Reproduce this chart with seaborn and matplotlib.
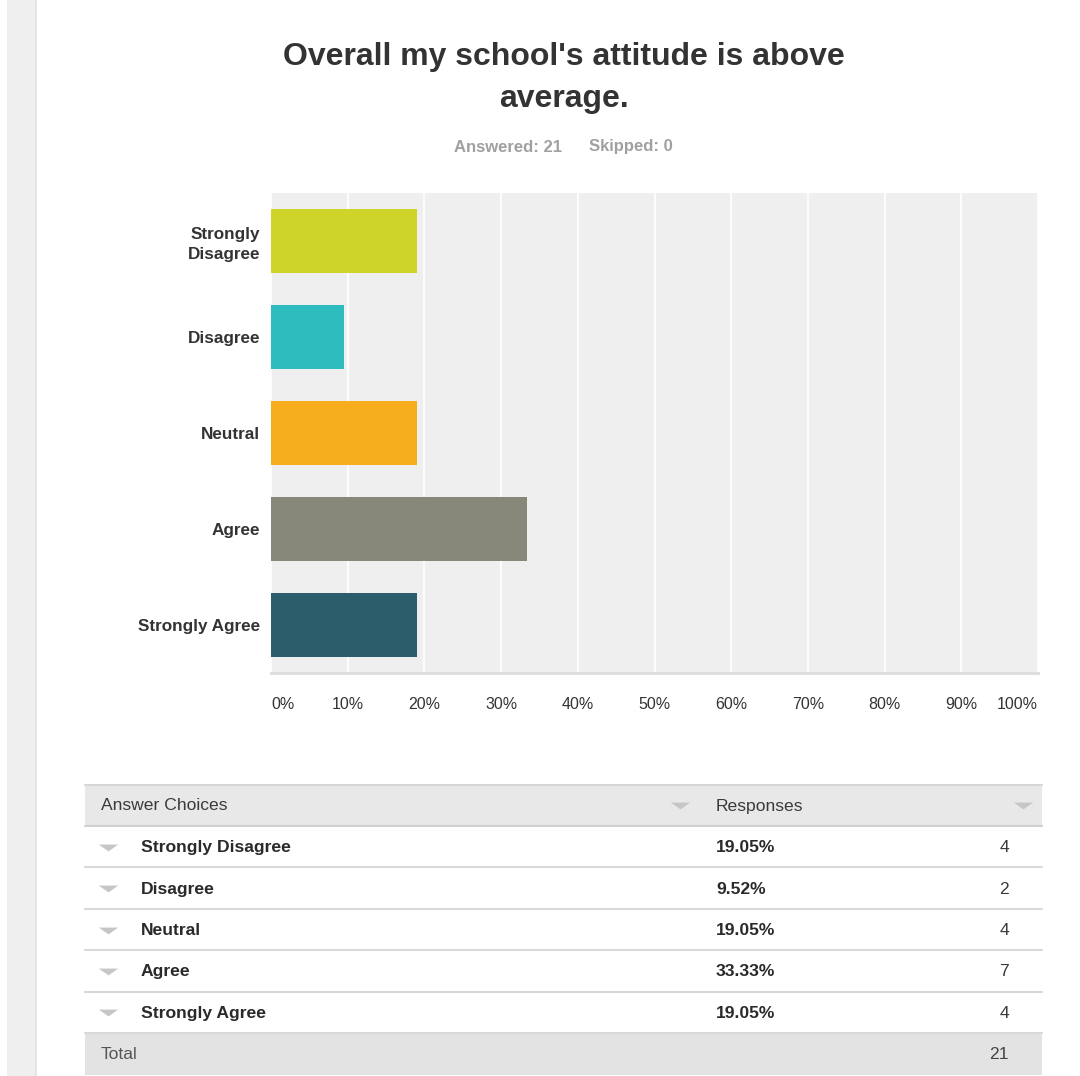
import matplotlib
matplotlib.use("Agg")
import matplotlib.pyplot as plt
from matplotlib.patches import Rectangle
import pandas as pd
import seaborn as sns

# Survey results
categories = ["Strongly Disagree", "Disagree", "Neutral", "Agree", "Strongly Agree"]
axis_labels = ["Strongly\nDisagree", "Disagree", "Neutral", "Agree", "Strongly Agree"]
percents = [19.05, 9.52, 19.05, 33.33, 19.05]
counts = [4, 2, 4, 7, 4]
total = 21
skipped = 0
bar_colors = ["#cfd42a", "#2fbcbe", "#f6ae1f", "#87887a", "#2c5d6b"]
x_ticks = [0, 10, 20, 30, 40, 50, 60, 70, 80, 90, 100]
title = "Overall my school's attitude is above\naverage."

sns.set_theme(style="white")
plt.rcParams["font.family"] = ["Liberation Sans", "DejaVu Sans"]

W, H = 1080, 1076
fig = plt.figure(figsize=(W / 100, H / 100), dpi=100)
fig.patch.set_facecolor("white")

# Page overlay in pixel coordinates
page = fig.add_axes([0, 0, 1, 1], zorder=0)
page.set_xlim(0, W)
page.set_ylim(H, 0)
page.axis("off")

# left side strip
page.add_patch(Rectangle((7, 0), 29, H, color="#efefef", lw=0))
page.plot([36, 36], [0, H], color="#e2e2e2", lw=1.2)

# title and subtitle
page.text(564, 78, title, ha="center", va="center", fontsize=23,
          fontweight="bold", color="#333333", linespacing=1.5)
page.text(508, 147, f"Answered: {total}", ha="center", va="center",
          fontsize=12, fontweight="bold", color="#a0a0a0")
page.text(631, 147, f"Skipped: {skipped}", ha="center", va="center",
          fontsize=12, fontweight="bold", color="#a0a0a0")

# Bar chart
ax = fig.add_axes([271 / W, (H - 673) / H, 767 / W, 480 / H], zorder=2)
df = pd.DataFrame({"choice": axis_labels, "pct": percents})
sns.barplot(data=df, x="pct", y="choice", hue="choice", palette=bar_colors,
            order=axis_labels, legend=False, width=0.667, saturation=1,
            linewidth=0, ax=ax, zorder=3)
ax.set_facecolor("#efefef")
ax.set_xlim(0, 100)
ax.set_ylim(4.5, -0.5)
ax.set_xticks(x_ticks)
ax.set_xticklabels([f"{t}%" for t in x_ticks])
ax.grid(axis="x", color="white", lw=1.2, zorder=0)
ax.set_axisbelow(True)
ax.set_xlabel("")
ax.set_ylabel("")
for s in ["top", "right", "left"]:
    ax.spines[s].set_visible(False)
ax.spines["bottom"].set_color("#dcdcdc")
ax.spines["bottom"].set_linewidth(2)
ax.tick_params(axis="x", length=0, pad=17, labelsize=11.5, labelcolor="#333333")
ax.tick_params(axis="y", length=0, pad=8, labelsize=12.3, labelcolor="#333333")
for lab in ax.get_yticklabels():
    lab.set_fontweight("bold")
    lab.set_multialignment("right")
    lab.set_linespacing(1.4)
xl = ax.get_xticklabels()
xl[0].set_ha("left")
xl[-1].set_ha("right")

# Response table
tri = [(-1, 0.3), (1, 0.3), (0, -0.4)]
tx0, tx1 = 85, 1042
page.add_patch(Rectangle((tx0, 785), tx1 - tx0, 41, color="#e8e8e8", lw=0))
page.plot([tx0, tx1], [785, 785], color="#d6d6d6", lw=1.5)
page.plot([tx0, tx1], [826, 826], color="#d0d0d0", lw=1.5)
page.text(101, 806, "Answer Choices", ha="left", va="center", fontsize=12.6,
          color="#3a3a3a")
page.text(716, 806, "Responses", ha="left", va="center", fontsize=12.6,
          color="#3a3a3a")
page.plot([680, 1023], [805, 805], ls="none", marker=tri, ms=14,
          color="#c6c6c6", markeredgewidth=0)

row_top = 826
row_h = 41.4
for i, (cat, pct, n) in enumerate(zip(categories, percents, counts)):
    y0 = row_top + i * row_h
    yc = y0 + row_h / 2 + 1
    page.plot([tx0, tx1], [y0 + row_h, y0 + row_h], color="#d8d8d8", lw=1.5)
    page.plot([108], [yc - 1], ls="none", marker=tri, ms=14, color="#c6c6c6",
              markeredgewidth=0)
    page.text(141, yc, cat, ha="left", va="center", fontsize=12.6,
              fontweight="bold", color="#2a2a2a")
    page.text(716, yc, f"{pct:.2f}%", ha="left", va="center", fontsize=12.6,
              fontweight="bold", color="#2a2a2a")
    page.text(1009, yc, str(n), ha="right", va="center", fontsize=12.6,
              color="#3a3a3a")

ty0 = row_top + 5 * row_h
page.add_patch(Rectangle((tx0, ty0), tx1 - tx0, H - ty0 - 1, color="#e3e3e3", lw=0))
page.text(101, ty0 + row_h / 2 + 1, "Total", ha="left", va="center",
          fontsize=12.6, color="#555555")
page.text(1009, ty0 + row_h / 2 + 1, str(total), ha="right", va="center",
          fontsize=12.6, color="#444444")

fig.savefig("out.png", dpi=100, facecolor="white")
